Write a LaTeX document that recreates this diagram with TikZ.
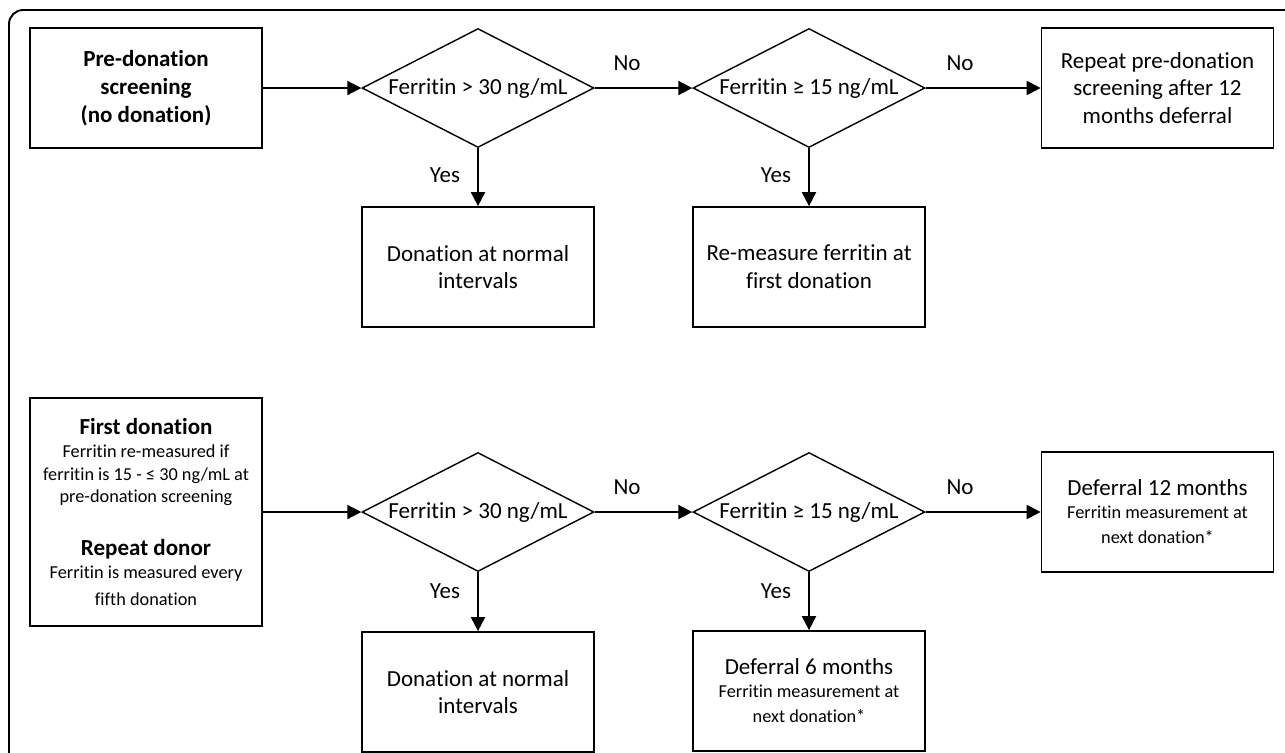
\documentclass[tikz,border=0pt]{standalone}
\usepackage{fontspec}
\setmainfont{Carlito}[Ligatures=NoCommon]
\usetikzlibrary{positioning,shapes,arrows.meta}
\newcommand{\bigtxt}{\fontsize{13.1}{15.8}\selectfont}
\newcommand{\smalltxt}{\fontsize{10.4}{12.9}\selectfont}
\newcommand{\condtxt}[1]{\makebox[0pt]{#1}}

\begin{document}
\begin{tikzpicture}
    [x=0.02cm,y=-0.02cm,every node/.style={font=\bigtxt, inner sep=0pt},
     box/.style={draw, line width=1pt, rectangle, text width=4.62cm, align=flush center, minimum width=4.64cm, minimum height=2.4cm},
     test/.style={draw, line width=0.8pt, diamond, minimum width=4.64cm, minimum height=2.38cm}]
  \useasboundingbox (0,0) rectangle (1285,752);
  \clip (0,0) rectangle (1285,752);
  \draw[line width=1.1pt, rounded corners=8pt] (9,10) rectangle (1320,800);

  % screening
  \node[box, font=\bigtxt\bfseries] (pre) at (146,88) {Pre-donation\\screening\\(no donation)};
  \node[test] (d1) at (478,88) {\condtxt{Ferritin > 30 ng/mL}};
  \node[test] (d2) at (809,88) {\condtxt{Ferritin ≥ 15 ng/mL}};
  \node[box] (rep) at (1157.5,88) {Repeat pre-donation\\screening after 12\\months deferral};
  \node[box] (norm1) at (478,267) {Donation at normal\\intervals};
  \node[box] (remeas) at (809,267) {Re-measure ferritin at\\first donation};

  % donation
  \node[box, minimum height=4.56cm] (first) at (146,512)
    {\textbf{First donation}\\
     {\smalltxt Ferritin re-measured if\\ferritin is 15 - ≤ 30 ng/mL at\\pre-donation screening\par}
     \vspace{14pt}
     \textbf{Repeat donor}\\
     {\smalltxt Ferritin is measured every\\[2.5pt]fifth donation\par}};
  \node[test] (d3) at (478,512) {\condtxt{Ferritin > 30 ng/mL}};
  \node[test] (d4) at (809,512) {\condtxt{Ferritin ≥ 15 ng/mL}};
  \node[box] (def12) at (1157.5,512) {Deferral 12 months\\{\smalltxt Ferritin measurement at\\[1.5pt]next donation*\par}};
  \node[box] (norm2) at (478,692) {Donation at normal\\intervals};
  \node[box] (def6) at (809,691) {Deferral 6 months\\{\smalltxt Ferritin measurement at\\[1.5pt]next donation*\par}};

  \node (no1) at (627,63) {No};
  \node (no2) at (960,63) {No};
  \node (no3) at (627,487) {No};
  \node (no4) at (960,487) {No};
  \node (yes1) at (445,175) {Yes};
  \node (yes2) at (776,175) {Yes};
  \node (yes3) at (445,591) {Yes};
  \node (yes4) at (776,591) {Yes};

  \foreach \from/\to in {pre/d1, d1/d2, d2/rep, d1/norm1, d2/remeas,
                         first/d3, d3/d4, d4/def12, d3/norm2, d4/def6}
    \draw (\from) edge[-{Triangle[length=8pt,width=8pt]}, line width=1.1pt] (\to);
\end{tikzpicture}
\end{document}
